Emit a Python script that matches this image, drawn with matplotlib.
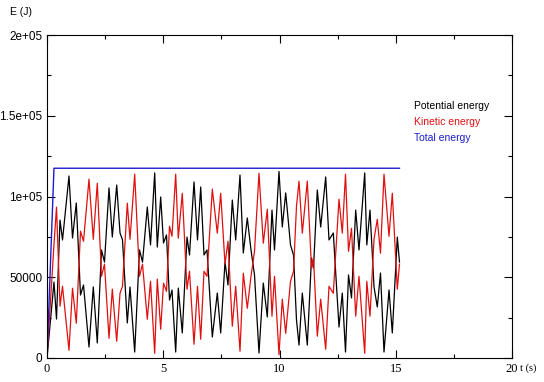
import numpy as np
import matplotlib
matplotlib.use("Agg")
import matplotlib.pyplot as plt
from matplotlib.ticker import MultipleLocator, FixedLocator

# potential energy (t in s, E in J)
t_pot = [0.000, 0.301, 0.409, 0.559, 0.667, 0.946, 1.097, 1.260, 1.441, 1.570,
         1.806, 1.991, 2.163, 2.344, 2.473, 2.667, 2.809, 2.998, 3.140, 3.247,
         3.454, 3.570, 3.772, 3.978, 4.108, 4.314, 4.452, 4.632, 4.744, 4.890,
         5.011, 5.140, 5.269, 5.376, 5.535, 5.647, 5.819, 6.022, 6.129, 6.323,
         6.473, 6.611, 6.753, 6.882, 7.110, 7.325, 7.471, 7.656, 7.785, 7.970,
         8.116, 8.301, 8.443, 8.615, 8.774, 8.925, 9.118, 9.303, 9.475, 9.677,
         9.785, 9.978, 10.120, 10.267, 10.473, 10.602, 10.731, 10.839, 10.981, 11.196,
         11.376, 11.462, 11.626, 11.772, 11.987, 12.129, 12.314, 12.559, 12.701, 12.839,
         12.968, 13.097, 13.277, 13.419, 13.665, 13.755, 13.892, 14.065, 14.206, 14.344,
         14.495, 14.710, 14.852, 15.067, 15.161]
e_pot = [0, 47000, 24100, 85400, 73100, 112700, 74300, 96000, 39000, 45200,
         6800, 44000, 9300, 66900, 59400, 105300, 74900, 107100, 77400, 73100,
         21700, 44000, 3700, 66900, 59400, 93500, 70000, 114600, 68700, 99700,
         71200, 76200, 35900, 42100, 3700, 43300, 15500, 74900, 63800, 109000,
         73100, 105900, 63800, 66900, 13000, 40200, 15500, 59400, 45200, 97800,
         73100, 113300, 65000, 86700, 66900, 51400, 3100, 46400, 25400, 91600,
         66900, 115500, 81100, 102200, 70000, 63800, 23500, 8000, 40200, 8000,
         61900, 55700, 104000, 81100, 112100, 73100, 77400, 19200, 40200, 3700,
         51400, 37200, 91600, 66900, 114600, 70000, 91600, 44000, 31600, 52600,
         3700, 42100, 15500, 74900, 59400]

# total energy: ramps up at the start, then flat
t_tot = [0.0, 0.30, 15.16]
e_tot = [0, 117500, 117500]

# kinetic = total - potential (total is 0 at t = 0)
tot_at_pot = [0] + [117500] * (len(e_pot) - 1)
e_kin = [a - b for a, b in zip(tot_at_pot, e_pot)]

legend_labels = ["Potential energy", "Kinetic energy", "Total energy"]
legend_colors = ["black", "#e01010", "#1c1ccc"]

fig = plt.figure(figsize=(5.44, 3.82), dpi=100)
ax = fig.add_axes([47 / 544, 24 / 382, 465 / 544, 323 / 382])

ax.plot(t_pot, e_pot, color=legend_colors[0], lw=0.9)
ax.plot(t_pot, e_kin, color=legend_colors[1], lw=0.9)
ax.plot(t_tot, e_tot, color=legend_colors[2], lw=1.0)

ax.set_xlim(0, 20)
ax.set_ylim(0, 2e5)
ax.xaxis.set_major_locator(MultipleLocator(5))
ax.xaxis.set_minor_locator(MultipleLocator(2.5))
ax.yaxis.set_major_locator(FixedLocator([0, 50000, 100000, 150000, 200000]))
ax.yaxis.set_minor_locator(MultipleLocator(25000))
ax.set_yticklabels(["0", "50000", "1e+05", "1.5e+05", "2e+05"])

ax.tick_params(which="both", direction="in", top=True, right=True, width=0.8)
ax.tick_params(which="major", length=6)
ax.tick_params(which="minor", length=3)
for lab in ax.get_xticklabels():
    lab.set_fontfamily("Liberation Serif")
    lab.set_fontsize(9)
for lab in ax.get_yticklabels():
    lab.set_fontfamily("Liberation Sans")
    lab.set_fontsize(8.5)
for sp in ax.spines.values():
    sp.set_linewidth(0.8)

fig.text(10 / 544, 1 - 12 / 382, "E (J)", fontsize=7.5, family="Liberation Sans",
         va="center", ha="left")
fig.text(520 / 544, 1 - 368 / 382, "t (s)", fontsize=7.5, family="Liberation Serif",
         va="center", ha="left")

for i, (lbl, col) in enumerate(zip(legend_labels, legend_colors)):
    fig.text(414 / 544, 1 - (106 + 16 * i) / 382, lbl, color=col, fontsize=7.5,
             family="Liberation Sans", va="center", ha="left")

fig.savefig("out.png", dpi=100)
